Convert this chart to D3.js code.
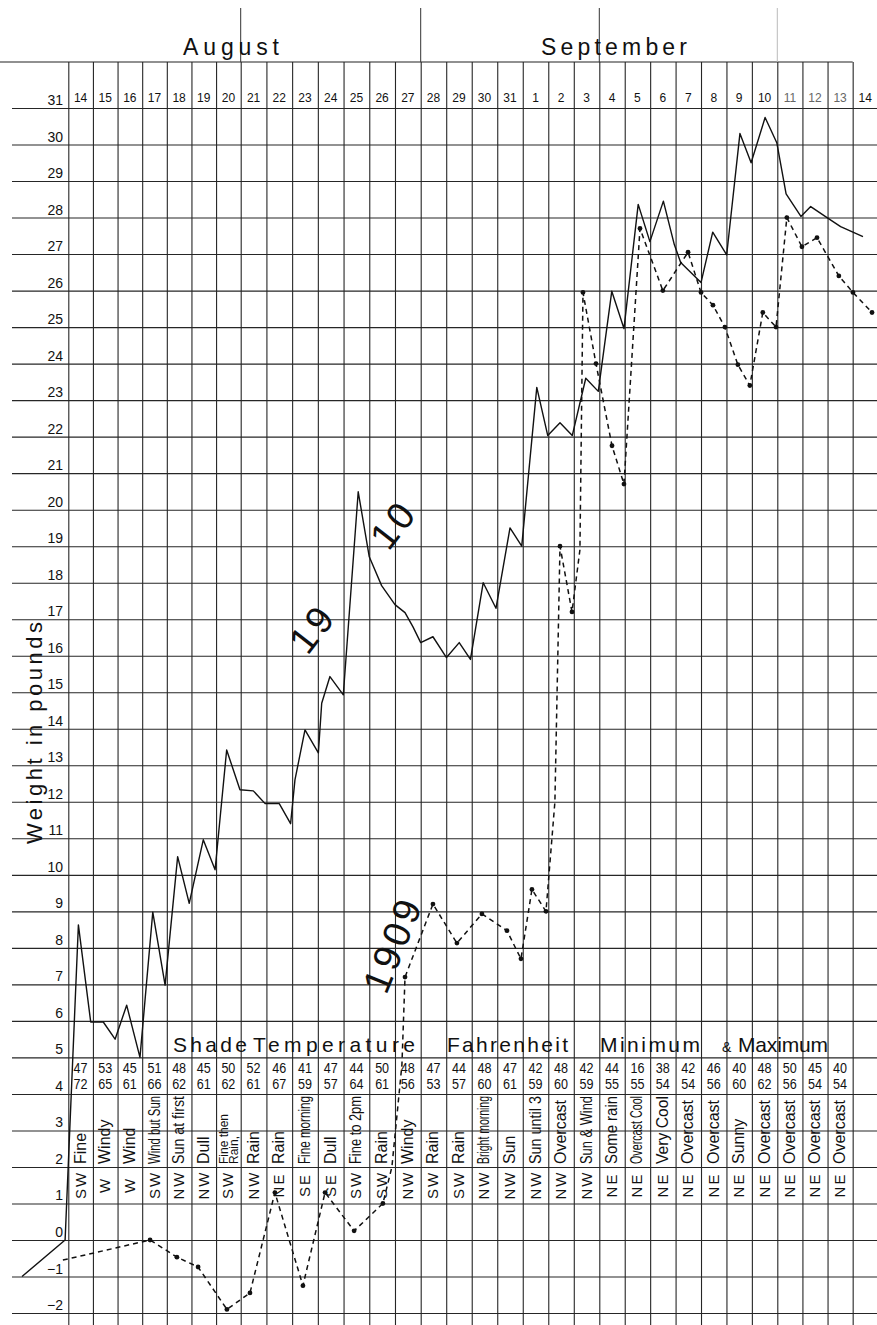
<!DOCTYPE html>
<html>
<head>
<meta charset="utf-8">
<script src="https://cdnjs.cloudflare.com/ajax/libs/d3/7.8.5/d3.min.js"></script>
<style>
	body { margin: 0; background: #fff; }
	svg text { font-family: 'Liberation Sans', 'DejaVu Sans', sans-serif; fill: #111; }
	.grid line { stroke: #262626; stroke-width: 1.1; }
	.grid path { display: none; }
</style>
</head>
<body>
<script>

// day columns, Aug 14 to Sept 14
var dayLabels = ['14','15','16','17','18','19','20','21','22','23','24','25','26','27','28','29','30','31',
	'1','2','3','4','5','6','7','8','9','10','11','12','13','14'];
var weekStarts = [7, 14, 21, 28];
var weightTicks = d3.range(-2, 32);

// 1910 weighings: time in days from Aug 14, weight in pounds
var days1910 = [-1.88, -0.13, 0.41, 0.91, 1.42, 1.90, 2.37, 2.91, 3.43, 3.93, 4.44, 4.91, 5.48, 5.96,
	6.43, 6.97, 7.49, 7.95, 8.50, 8.94, 9.11, 9.50, 10.02, 10.15, 10.47, 10.99, 11.57, 12.00, 12.48,
	13.00, 13.39, 13.70, 14.00, 14.48, 15.01, 15.51, 15.95, 16.45, 16.95, 17.50, 17.96, 18.55, 18.98,
	19.46, 19.94, 20.47, 20.96, 21.49, 21.97, 22.53, 22.99, 23.52, 23.95, 24.20, 25.00, 25.46, 26.01,
	26.53, 26.97, 27.52, 27.98, 28.35, 28.94, 29.33, 29.98, 30.52, 31.01, 31.41];
var weights1910 = [-1.0, 0, 8.63, 5.97, 5.97, 5.5, 6.43, 5.0, 8.98, 6.98, 10.5, 9.22, 10.96, 10.14,
	13.42, 12.33, 12.3, 11.95, 11.95, 11.4, 12.6, 13.97, 13.34, 14.7, 15.43, 14.93, 20.49, 18.71, 17.92,
	17.4, 17.18, 16.79, 16.36, 16.52, 15.95, 16.36, 15.9, 18.0, 17.3, 19.5, 19.0, 23.35, 22.03,
	22.38, 22.03, 23.6, 23.24, 25.98, 24.96, 28.36, 27.34, 28.45, 27.26, 26.77, 26.22, 27.6, 26.98,
	30.3, 29.5, 30.74, 30.05, 28.65, 28.03, 28.3, 28.0, 27.75, 27.6, 27.48];

// 1909 weighings, dotted where a reading was marked
var days1909 = [-0.22, 3.32, 4.41, 5.27, 6.44, 7.36, 8.33, 9.42, 10.28, 11.41, 12.53, 12.88, 13.27,
	13.39, 14.48, 15.42, 16.40, 17.38, 17.93, 18.36, 18.91, 19.26, 19.46, 19.93, 20.24, 20.36, 20.87,
	21.50, 21.97, 22.60, 23.50, 24.49, 25.00, 25.47, 25.94, 26.45, 26.92, 27.43, 27.95, 28.38, 28.98,
	29.58, 30.45, 31.01, 31.77];
var weights1909 = [-0.55, 0.0, -0.47, -0.74, -1.9, -1.45, 1.3, -1.25, 1.3, 0.25, 1.0, 2.0, 4.8,
	7.2, 9.2, 8.13, 8.93, 8.47, 7.7, 9.6, 9.0, 12.0, 19.0, 17.2, 18.9, 25.95, 24.0,
	21.75, 20.7, 27.7, 26.0, 27.05, 25.95, 25.6, 25.0, 23.97, 23.4, 25.4, 25.0, 28.0, 27.2,
	27.45, 26.4, 25.95, 25.4];
var marked1909 = [0, 1, 1, 1, 1, 1, 1, 1, 1, 1, 1, 0, 0,
	1, 1, 1, 1, 1, 1, 1, 1, 0, 1, 1, 0, 1, 1,
	1, 1, 1, 1, 1, 1, 1, 1, 1, 1, 1, 1, 1, 1,
	1, 1, 1, 1];

// shade temperature, Fahrenheit, min over max
var tempMin = [47,53,45,51,48,45,50,52,46,41,47,44,50,48,47,44,48,47,42,48,42,44,16,38,42,46,40,48,50,45,40];
var tempMax = [72,65,61,66,62,61,62,61,67,59,57,64,61,56,53,57,60,61,59,60,59,55,55,54,54,56,60,62,56,54,54];

var weather = ['Fine','Windy','Wind','Wind but Sun','Sun at first','Dull','Fine then\nRain,','Rain','Rain',
	'Fine morning','Dull','Fine to 2pm','Rain','Windy','Rain','Rain','Bright morning','Sun','Sun until 3',
	'Overcast','Sun & Wind','Some rain','Overcast Cool','Very Cool','Overcast','Overcast','Sunny',
	'Overcast','Overcast','Overcast','Overcast'];
var wind = ['SW','W','W','SW','NW','NW','SW','NW','NE','SE','SE','SW','SW','NW','SW','SW','NW','NW',
	'NW','NW','NW','NE','NE','NE','NE','NE','NE','NE','NE','NE','NE'];

var width = 877,
	height = 1325,
	topY = 62;

// the ruled paper is not quite even, so the day scale is pinned at each week
var x = d3.scaleLinear()
	.domain([0, 7, 14, 21, 28, 32])
	.range([68.3, 240.7, 420.7, 599.3, 777.3, 877.8]);
var y = d3.scaleLinear()
	.domain([0, 31])
	.range([1240, 108]);
var mid = function(i) { return (x(i) + x(i + 1)) / 2; };

var svg = d3.select('body').append('svg')
	.attr('width', width)
	.attr('height', height);

// horizontal rules with the pound figures sitting on them
var yAxis = svg.append('g')
	.attr('class', 'grid')
	.attr('transform', 'translate(12,0)')
	.call(d3.axisLeft(y)
		.tickValues(weightTicks)
		.tickSize(-(width - 12))
		.tickFormat(function(d) { return d < 0 ? '\u2212' + (-d) : d; }));
yAxis.selectAll('text')
	.attr('x', 51)
	.attr('dy', '-0.25em')
	.attr('font-size', 14)
	.attr('text-anchor', 'end');

// vertical day rules
svg.append('g')
	.attr('class', 'grid')
	.attr('transform', 'translate(0,' + topY + ')')
	.call(d3.axisTop(x)
		.tickValues(d3.range(0, 32))
		.tickSize(-(height - topY))
		.tickFormat(''));

// top border and the week marks above it
svg.append('line')
	.attr('x1', 0).attr('x2', x(31))
	.attr('y1', topY).attr('y2', topY)
	.attr('stroke', '#222')
	.attr('stroke-width', 1.2);
svg.selectAll('.week')
	.data(weekStarts)
	.enter().append('line')
	.attr('x1', function(d) { return x(d); })
	.attr('x2', function(d) { return x(d); })
	.attr('y1', 8).attr('y2', topY)
	.attr('stroke', function(d) { return d == 28 ? '#bbb' : '#333'; });

// month names
svg.append('text').text('August')
	.attr('x', 183).attr('y', 55)
	.attr('font-size', 23)
	.attr('textLength', 96);
svg.append('text').text('September')
	.attr('x', 541).attr('y', 55)
	.attr('font-size', 23)
	.attr('textLength', 146);

// day numbers
svg.selectAll('.day')
	.data(dayLabels)
	.enter().append('text')
	.text(function(d) { return d; })
	.attr('x', function(d, i) { return mid(i); })
	.attr('y', 102)
	.attr('font-size', 12)
	.attr('text-anchor', 'middle')
	.style('fill', function(d, i) { return i > 27 && i < 31 ? '#666' : '#111'; });

// heading across the temperature rows
var heading = [['Shade', 173, 74, 21], ['Temperature', 253, 162, 21], ['Fahrenheit', 447, 121, 21],
	['Minimum', 600, 100, 21], ['&', 722, 9, 14], ['Maximum', 738, 90, 21]];
svg.selectAll('.heading')
	.data(heading)
	.enter().append('text')
	.text(function(d) { return d[0]; })
	.attr('x', function(d) { return d[1]; })
	.attr('y', 1052)
	.attr('font-size', function(d) { return d[3]; })
	.attr('textLength', function(d) { return d[2]; })
	.attr('lengthAdjust', 'spacing');

// min and max temperatures
svg.selectAll('.tmin')
	.data(tempMin)
	.enter().append('text')
	.text(function(d) { return d; })
	.attr('x', function(d, i) { return mid(i); })
	.attr('y', 1073)
	.attr('font-size', 14)
	.attr('text-anchor', 'middle')
	.attr('textLength', 14)
	.attr('lengthAdjust', 'spacingAndGlyphs');
svg.selectAll('.tmax')
	.data(tempMax)
	.enter().append('text')
	.text(function(d) { return d; })
	.attr('x', function(d, i) { return mid(i); })
	.attr('y', 1089)
	.attr('font-size', 14)
	.attr('text-anchor', 'middle')
	.attr('textLength', 14)
	.attr('lengthAdjust', 'spacingAndGlyphs');

// weather notes, written up the column
weather.forEach(function(w, i) {
	var lines = w.split('\n'),
		size = lines.length > 1 ? 12 : 16;
	lines.forEach(function(line, j) {
		var cx = mid(i) + 5 + (j - (lines.length - 1) / 2) * 10;
		var t = svg.append('text')
			.text(line)
			.attr('font-size', size)
			.attr('transform', 'translate(' + cx + ',1164) rotate(-90)');
		if(t.node().getComputedTextLength() > 68) {
			t.attr('textLength', 68).attr('lengthAdjust', 'spacingAndGlyphs');
		}
	});
});

// wind
svg.selectAll('.wind')
	.data(wind)
	.enter().append('text')
	.text(function(d) { return d; })
	.attr('font-size', 15)
	.attr('letter-spacing', 2)
	.attr('text-anchor', 'middle')
	.attr('transform', function(d, i) {
		return 'translate(' + (mid(i) + 5) + ',1185) rotate(-90)';
	});

// axis title
svg.append('text').text('Weight in pounds')
	.attr('font-size', 22)
	.attr('text-anchor', 'middle')
	.attr('textLength', 222)
	.attr('transform', 'translate(42,733) rotate(-90)');

var line = d3.line()
	.x(function(d) { return x(d[0]); })
	.y(function(d) { return y(d[1]); });

// 1910, solid
svg.append('path')
	.datum(d3.zip(days1910, weights1910))
	.attr('d', line)
	.attr('fill', 'none')
	.attr('stroke', '#111')
	.attr('stroke-width', 1.4)
	.attr('stroke-linejoin', 'round');

// 1909, dashed with dots
var pts1909 = d3.zip(days1909, weights1909, marked1909);
svg.append('path')
	.datum(pts1909)
	.attr('d', line)
	.attr('fill', 'none')
	.attr('stroke', '#111')
	.attr('stroke-width', 1.5)
	.attr('stroke-dasharray', '5,4');
svg.selectAll('.dot')
	.data(pts1909.filter(function(d) { return d[2]; }))
	.enter().append('circle')
	.attr('cx', function(d) { return x(d[0]); })
	.attr('cy', function(d) { return y(d[1]); })
	.attr('r', 2.4)
	.attr('fill', '#111');

// year labels written along the curves
var years = [['19', 9.80, 16.75, -52], ['10', 12.95, 19.6, -52], ['1909', 12.92, 8.1, -68]];
svg.selectAll('.year')
	.data(years)
	.enter().append('text')
	.text(function(d) { return d[0]; })
	.attr('font-size', 38)
	.attr('letter-spacing', 4)
	.attr('text-anchor', 'middle')
	.attr('dominant-baseline', 'central')
	.attr('transform', function(d) {
		return 'translate(' + x(d[1]) + ',' + y(d[2]) + ') rotate(' + d[3] + ')';
	});

</script>
</body>
</html>
